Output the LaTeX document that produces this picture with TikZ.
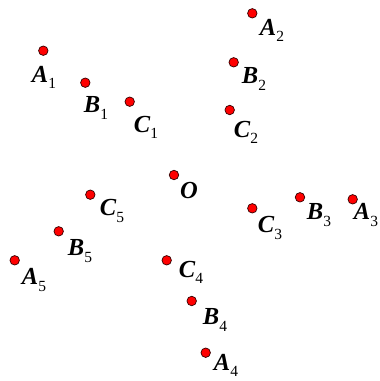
\documentclass[tikz,border=0pt]{standalone}
\usepackage{fontspec}
\setmainfont{Liberation Serif}
\newcommand{\lbl}[2]{{\bfseries\itshape #1}\raisebox{-0.25em}{\fontsize{15.5}{15.5}\selectfont #2}}
\begin{document}
\begin{tikzpicture}[x=1pt,y=-1pt,
  pt/.style={circle,draw=black!80!red,fill=red,line width=0.7pt,inner sep=0pt,minimum size=9.5pt},
  lab/.style={inner sep=0pt,font=\fontsize{24.5}{24.5}\selectfont}]
\useasboundingbox (0,0) rectangle (380,381);
% points
\node[pt] (A1) at (43.3,50.7) {};
\node[pt] (B1) at (85.3,82.7) {};
\node[pt] (C1) at (129.7,101.7) {};
\node[pt] (A2) at (252.3,13.3) {};
\node[pt] (B2) at (233.7,62.3) {};
\node[pt] (C2) at (229.7,110) {};
\node[pt] (O) at (174,175) {};
\node[pt] (C3) at (252.3,208.3) {};
\node[pt] (B3) at (300,197.3) {};
\node[pt] (A3) at (352.7,199.3) {};
\node[pt] (C4) at (166.7,260.3) {};
\node[pt] (B4) at (191.7,301) {};
\node[pt] (A4) at (205.7,352.7) {};
\node[pt] (C5) at (90.3,194.7) {};
\node[pt] (B5) at (58.7,231.3) {};
\node[pt] (A5) at (14.7,260.3) {};
% labels
\node[lab] (lA1) at (44,77) {\lbl{A}{1}};
\node[lab] (lB1) at (96,108) {\lbl{B}{1}};
\node[lab] (lC1) at (146,127) {\lbl{C}{1}};
\node[lab] (lA2) at (272,30) {\lbl{A}{2}};
\node[lab] (lB2) at (254,79) {\lbl{B}{2}};
\node[lab] (lC2) at (246,132) {\lbl{C}{2}};
\node[lab] (lO) at (189,191) {\bfseries\itshape O};
\node[lab] (lC3) at (270,228) {\lbl{C}{3}};
\node[lab] (lB3) at (319,215) {\lbl{B}{3}};
\node[lab] (lA3) at (366,215) {\lbl{A}{3}};
\node[lab] (lC4) at (191,272) {\lbl{C}{4}};
\node[lab] (lB4) at (215,320) {\lbl{B}{4}};
\node[lab] (lA4) at (226,365) {\lbl{A}{4}};
\node[lab] (lC5) at (112,211) {\lbl{C}{5}};
\node[lab] (lB5) at (80,251) {\lbl{B}{5}};
\node[lab] (lA5) at (34,280) {\lbl{A}{5}};
\end{tikzpicture}
\end{document}
